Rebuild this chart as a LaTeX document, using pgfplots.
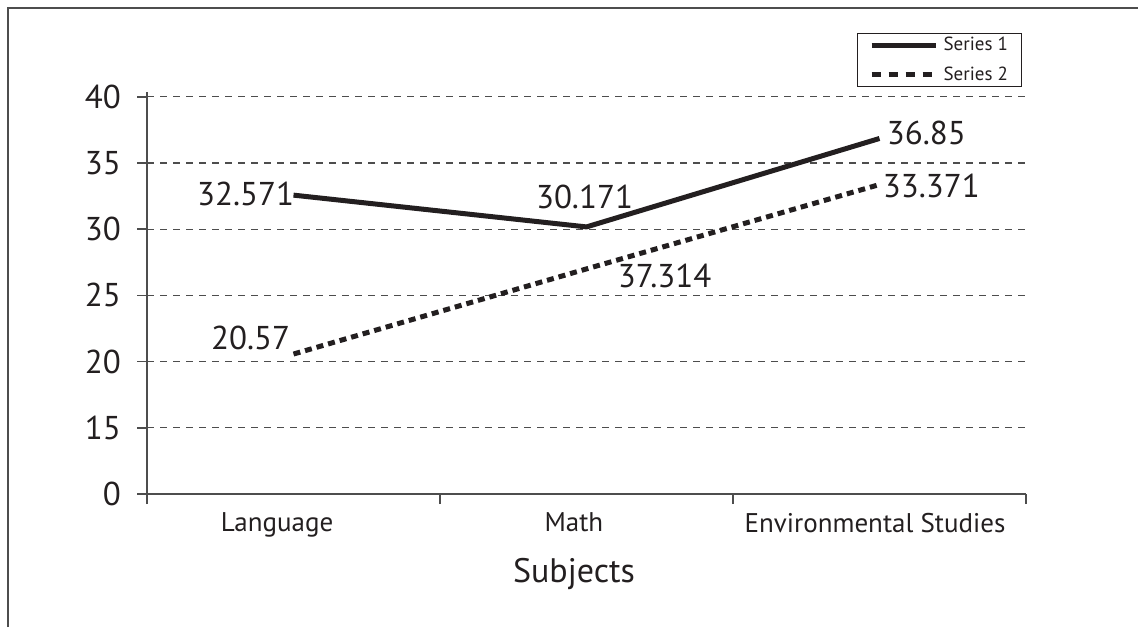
\documentclass[border=0pt]{standalone}
\usepackage{fontspec}
\setmainfont{PT Sans}
\usepackage{pgfplots}
\pgfplotsset{compat=1.18}
\definecolor{ink}{HTML}{231F20}
\definecolor{rule}{HTML}{4D4D4D}

\begin{document}
\begin{tikzpicture}
% page size and the cropped outer frame (top and left only)
\path[use as bounding box] (0pt,0pt) rectangle (569pt,313.5pt);
\draw[rule, line width=1pt] (4pt,0pt) -- (4pt,309.5pt) -- (569pt,309.5pt);

\begin{axis}[
  at={(73.5pt,66.5pt)}, anchor=south west,
  scale only axis, width=439.5pt, height=201pt,
  xmin=0.5, xmax=3.5, ymin=10, ymax=40.36,
  axis x line=bottom, axis y line=left,
  axis line style={-, rule, line width=0.8pt},
  tick align=outside, major tick length=5pt,
  tick style={rule, line width=0.8pt},
  xtick={0.5,1.5,2.5,3.5}, xticklabels={},
  % category names sit slightly left of the group centres, as in the original
  extra x ticks={0.944,1.957,2.985},
  extra x tick labels={Language,Math,Environmental Studies},
  extra x tick style={tick style={draw=none},
    xticklabel style={font=\fontsize{13.5}{15}\selectfont, text=ink, yshift=-1pt}},
  ytick={10,15,20,25,30,35,40},
  yticklabels={0,15,20,25,30,35,40},
  yticklabel style={font=\fontsize{16.5}{18}\selectfont, text=ink, xshift=-4.5pt},
  ymajorgrids,
  grid style={rule, line width=0.6pt, dash pattern=on 3.5pt off 3pt},
  xlabel={Subjects},
  xlabel style={font=\fontsize{17}{19}\selectfont, text=ink,
    at={(axis description cs:0.4858,0)}, anchor=base, yshift=-44pt},
  legend style={at={(0.9954,1.1468)}, anchor=north east, draw=ink,
    font=\fontsize{9.5}{11}\selectfont, text=ink, inner xsep=6pt, inner ysep=1pt,
    row sep=5pt, nodes={inner sep=0.8pt},
    /tikz/every odd column/.append style={column sep=2pt}},
  legend image code/.code={\draw[#1] (0pt,0pt) -- (32pt,0pt);},
  clip=false,
]
\addplot[ink, line width=2.5pt] coordinates {(1,32.571) (2,30.171) (3,36.85)};
\addplot[ink, line width=2.5pt, dash pattern=on 3.5pt off 2.5pt,
  legend image post style={dash pattern=on 4.5pt off 4pt}]
  coordinates {(1,20.57) (2,27.0) (3,33.371)};
\legend{Series 1, Series 2}

\begin{scope}[every node/.style={font=\fontsize{16.5}{18}\selectfont, text=ink, inner sep=0pt}]
\node[anchor=base east] at (axis cs:1,32.571) [xshift=0.5pt, yshift=-5pt] {32.571};
\node[anchor=base] at (axis cs:2,30.171) [xshift=-1pt, yshift=9pt] {30.171};
\node[anchor=base west] at (axis cs:3,36.85) [xshift=3.5pt, yshift=-3pt] {36.85};
\node[anchor=base west] at (axis cs:3,33.371) [xshift=1.5pt, yshift=-6.5pt] {33.371};
\node[anchor=base west] at (axis cs:2,27.0) [xshift=15.5pt, yshift=-9.5pt] {37.314};
\node[anchor=base east] at (axis cs:1,20.57) [xshift=-1.5pt, yshift=2.5pt] {20.57};
\end{scope}
\end{axis}
\end{tikzpicture}
\end{document}
